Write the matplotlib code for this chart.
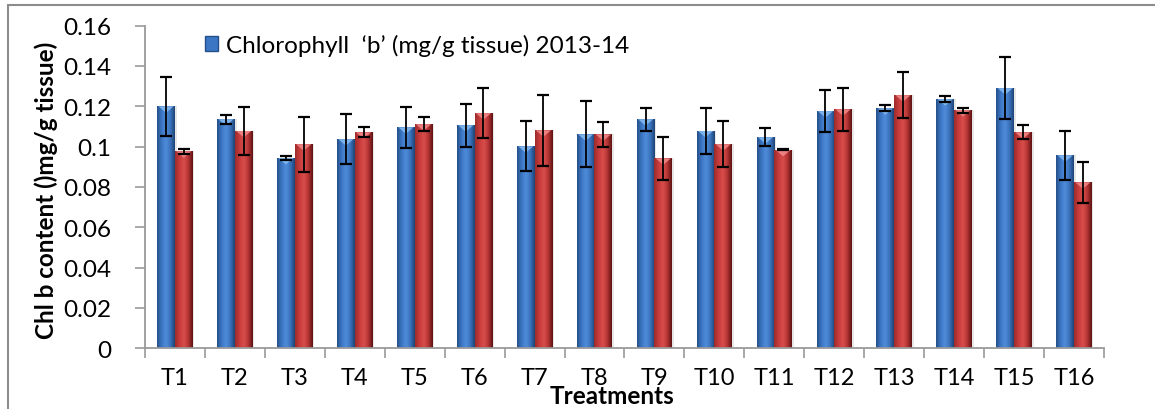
import numpy as np
import matplotlib
matplotlib.use("Agg")
import matplotlib.pyplot as plt
from matplotlib.colors import LinearSegmentedColormap
from matplotlib.patches import Patch, Polygon, Rectangle
from matplotlib.ticker import FuncFormatter, FixedLocator

# treatments and chlorophyll b content (mg/g tissue)
treatments = ["T" + str(i) for i in range(1, 17)]
chl_b_2013 = [0.120, 0.1136, 0.0944, 0.1037, 0.1096, 0.1106, 0.1002, 0.1061,
              0.1136, 0.1078, 0.1047, 0.1176, 0.1190, 0.1235, 0.1290, 0.0957]
err_2013 = [0.0147, 0.0022, 0.0012, 0.0125, 0.0102, 0.0107, 0.0123, 0.0164,
            0.0056, 0.0115, 0.0044, 0.0103, 0.0015, 0.0016, 0.0154, 0.0120]
chl_b_2014 = [0.0977, 0.1078, 0.1012, 0.1071, 0.1111, 0.1166, 0.1081, 0.1061,
              0.0942, 0.1012, 0.0984, 0.1185, 0.1255, 0.1181, 0.1071, 0.0823]
err_2014 = [0.0013, 0.0117, 0.0137, 0.0024, 0.0035, 0.0125, 0.0177, 0.0061,
            0.0107, 0.0115, 0.0003, 0.0105, 0.0114, 0.0013, 0.0035, 0.0101]

plt.rcParams['font.family'] = ['Lato', 'DejaVu Sans']

blue_cmap = LinearSegmentedColormap.from_list(
    "blue_bar", ["#244e88", "#3b76c4", "#4f8cda", "#3a72bc", "#1f4476"])
red_cmap = LinearSegmentedColormap.from_list(
    "red_bar", ["#9c2b2b", "#c83c3c", "#d84e4c", "#b53434", "#5c1212"])


def shade_bars(ax, bars, cmap, tip_color):
    # horizontal gradient inside each bar plus a small bevel at the top
    grad = np.linspace(0, 1, 64).reshape(1, -1)
    for bar in bars:
        x0 = bar.get_x()
        w = bar.get_width()
        h = bar.get_height()
        im = ax.imshow(grad, extent=[x0, x0 + w, 0, h], aspect='auto',
                       cmap=cmap, interpolation='bicubic', zorder=2)
        im.set_clip_path(bar)
        tip = Polygon([[x0 + 0.02, h], [x0 + w - 0.02, h], [x0 + w / 2, h - 0.0032]],
                      closed=True, facecolor=tip_color, edgecolor='none', alpha=0.8, zorder=3)
        ax.add_patch(tip)
        # soft shadow to the right
        ax.add_patch(Rectangle((x0 + w, 0), 0.03, h, facecolor='#d8d8d8',
                               edgecolor='none', alpha=0.6, zorder=1))


fig = plt.figure(figsize=(11.55, 4.1), dpi=100)
ax = fig.add_axes([0.1255, 0.148, 0.8303, 0.787])

x = np.arange(len(treatments))
width = 0.295

bars1 = ax.bar(x - width / 2, chl_b_2013, width, color='#3b76c4', zorder=2)
bars2 = ax.bar(x + width / 2, chl_b_2014, width, color='#c83c3c', zorder=2)
shade_bars(ax, bars1, blue_cmap, '#8cc0f4')
shade_bars(ax, bars2, red_cmap, '#f49090')

ax.errorbar(x - width / 2, chl_b_2013, yerr=err_2013, fmt='none', ecolor='black',
            elinewidth=1.3, capsize=4.5, capthick=1.6, zorder=5)
ax.errorbar(x + width / 2, chl_b_2014, yerr=err_2014, fmt='none', ecolor='black',
            elinewidth=1.3, capsize=4.5, capthick=1.6, zorder=5)

ax.set_xlim(-0.5, len(treatments) - 0.5)
ax.set_ylim(0, 0.16)
ax.set_yticks(np.arange(0, 0.161, 0.02))
ax.yaxis.set_major_formatter(FuncFormatter(lambda v, p: "%g" % round(v, 2)))

# category boundaries carry the ticks, labels sit at the centres
ax.xaxis.set_major_locator(FixedLocator(np.arange(-0.5, len(treatments), 1.0)))
ax.xaxis.set_major_formatter(FuncFormatter(lambda v, p: ""))
ax.set_xticks(x, minor=True)
ax.set_xticklabels(treatments, minor=True)
ax.tick_params(axis='x', which='minor', length=0, pad=13.5, labelsize=17)
ax.tick_params(axis='x', which='major', length=7, width=1.2, color='#9a9a9a')
ax.tick_params(axis='y', length=7, width=1.2, color='#9a9a9a', labelsize=17.5, pad=17)

for side in ['top', 'right']:
    ax.spines[side].set_visible(False)
for side in ['left', 'bottom']:
    ax.spines[side].set_color('#9a9a9a')
    ax.spines[side].set_linewidth(1.3)

ax.set_ylabel("Chl b content ()mg/g tissue)", fontsize=17.5, fontweight='bold')
ax.yaxis.set_label_coords(-0.091, 0.494)
fig.text(0.53, 0.034, "Treatments", ha='center', va='center', fontsize=17.5, fontweight='bold')

handle = Patch(facecolor='#3b76c4', edgecolor='#244e88')
ax.legend([handle], ["Chlorophyll  \u2018b\u2019 (mg/g tissue) 2013-14"], loc='upper left',
          bbox_to_anchor=(0.0626, 0.975), frameon=False, fontsize=17.5,
          handlelength=0.55, handleheight=0.55, handletextpad=0.3,
          borderpad=0, borderaxespad=0)

# outer frame around the chart area
fig.add_artist(Rectangle((8 / 1155, -0.1), 1.2, 1.1 - 5.5 / 410, transform=fig.transFigure,
                         facecolor='none', edgecolor='#8c8c8c', linewidth=1.5, clip_on=False))

fig.savefig("out.png", dpi=100)
